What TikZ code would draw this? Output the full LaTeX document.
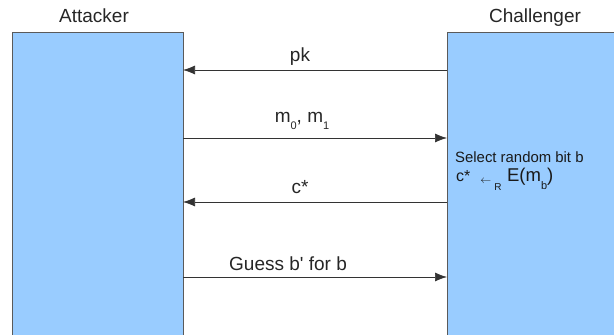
\documentclass[tikz,border=0pt]{standalone}
\usepackage{fontspec}
\setmainfont{Liberation Sans}
\usetikzlibrary{arrows.meta}
\definecolor{boxblue}{HTML}{99CCFF}
\definecolor{edgegrey}{HTML}{5A5A5A}
\definecolor{msgline}{HTML}{333333}
% lowered subscript in the drawing's own style
\newcommand{\lowsub}[3][11]{\raisebox{-#2}{\fontsize{#1}{12}\selectfont #3}}
\begin{document}
\begin{tikzpicture}[x=1pt,y=1pt,
  party/.style={draw=edgegrey,line width=0.8pt,fill=boxblue},
  msg/.style={draw=msgline,line width=0.7pt,-{Latex[length=12pt,width=9pt]}},
  role/.style={font=\fontsize{19}{21}\selectfont,text=black!85,anchor=base,inner sep=0pt},
  lbl/.style={font=\fontsize{19}{21}\selectfont,text=black!85,anchor=base,inner sep=0pt}]
\useasboundingbox (0,0) rectangle (614,335);
% the two parties
\path[party] (12,-2) rectangle (183,303);
\path[party] (447,-2) rectangle (616,303);
\coordinate (A1) at (183,265);
\coordinate (C1) at (447,265);
\coordinate (A2) at (183,197);
\coordinate (C2) at (447,197);
\coordinate (A3) at (183,133);
\coordinate (C3) at (447,133);
\coordinate (A4) at (183,58);
\coordinate (C4) at (447,58);
\node[role] (att) at (94,312) {Attacker};
\node[role] (chal) at (535,312) {Challenger};
% messages
\draw[msg] (C1) -- (A1);
\node[lbl] (pk) at (300,273) {pk};
\draw[msg] (A2) -- (C2);
\node[lbl] (m) at (302,212) {m\lowsub{7pt}{0}, m\lowsub{7pt}{1}};
\draw[msg] (C3) -- (A3);
\node[lbl] (cs) at (300,141) {c*};
\draw[msg] (A4) -- (C4);
\node[lbl] (g) at (288,64) {Guess b\textquotesingle{} for b};
% challenger's computation
\node[anchor=base west,font=\fontsize{14.9}{16}\selectfont,inner sep=0pt,text=black!90] (sel) at (455,172) {Select random bit b};
\node[anchor=base west,inner sep=0pt,text=black!90] (enc) at (456,153)
  {{\fontsize{16}{18}\selectfont c*}\hspace{10pt}\raisebox{-1.2pt}{\fontsize{11}{12}\selectfont$\leftarrow$}\hspace{3pt}\lowsub[10]{9pt}{R}\hspace{5.5pt}{\fontsize{18.5}{20}\selectfont E(m\lowsub{8pt}{b})}};
\end{tikzpicture}
\end{document}
